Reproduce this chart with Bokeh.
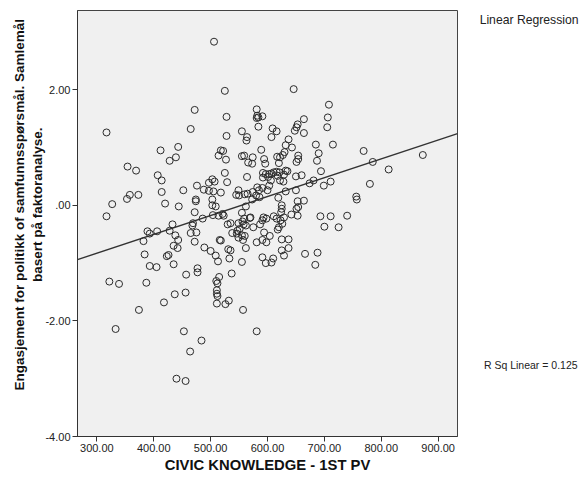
from bokeh.plotting import figure
from bokeh.layouts import row
from bokeh.models import Range1d, FixedTicker, PrintfTickFormatter
from bokeh.core.properties import value
from bokeh.embed import file_html
from bokeh.resources import INLINE

# CIVIC KNOWLEDGE - 1ST PV (x) vs engagement factor score (y)
civic = [506, 525, 472, 528, 465, 528, 317, 555, 564, 563, 412, 443, 439, 428, 354, 369, 407, 414, 414, 420,
         452, 476, 474, 474, 358, 353, 373, 327, 518, 522, 514, 527, 525, 529, 503, 507, 497, 488, 497, 505,
         518, 503, 555, 559, 566, 564, 549, 545, 550, 560, 565,
         444, 472, 503, 509, 562, 555, 559, 556, 569, 549, 558, 562, 504, 514, 521, 523, 486, 469, 468, 433,
         428, 389, 406, 393, 382, 384, 438, 443, 435, 442, 465, 475, 472, 530, 535, 538, 546, 549, 557, 555,
         560, 547, 551, 516, 518, 489, 500, 509, 513, 531, 535, 533, 562, 555, 423, 426, 435, 393, 405, 457,
         477, 477, 322, 339, 387, 510, 515, 512, 537, 437, 456, 418, 511, 511, 512, 511, 526, 532, 374, 557,
         333, 453, 484, 464, 440, 456, 317,
         646, 708, 706, 705, 715, 685, 690, 687, 694, 699, 711, 769, 785, 813, 873, 780, 756, 757,
         581, 582, 581, 584, 591, 584, 609, 616, 607, 664, 653, 651, 648, 664, 637, 632, 643, 630, 627, 622,
         617, 654, 654, 651, 589, 594, 596, 573, 574, 620, 621, 618, 629, 632, 635, 592, 597, 603, 607, 611,
         616, 592, 601, 606, 622, 628, 650, 660, 674, 681, 582, 591, 585, 574, 580, 586, 573, 632, 650, 619,
         653, 664, 600, 603,
         570, 593, 591, 575, 587, 594, 581, 591, 598, 604, 611, 616, 623, 620, 618, 629, 626, 625, 637, 637,
         625, 629, 591, 597, 607, 610, 642, 653, 651, 654, 625, 625, 624, 693, 711, 740, 700, 725, 666, 688,
         684, 581, 598]
engagement = [2.83, 1.98, 1.65, 1.53, 1.32, 1.20, 1.26, 1.28, 1.18, 1.12, 0.95, 1.01, 0.83, 0.77, 0.67, 0.60, 0.52, 0.43, 0.23, 0.03,
              0.26, 0.34, 0.10, 0.07, 0.18, 0.11, 0.18, 0.02, 0.95, 0.94, 0.86, 0.79, 0.56, 0.40, 0.45, 0.41, 0.39, 0.27, 0.25, 0.24,
              0.22, 0.10, 0.85, 0.86, 0.74, 0.49, 0.26, 0.18, 0.17, 0.19, 0.20,
              -0.02, -0.12, 0.00, -0.02, -0.02, -0.13, -0.23, -0.28, -0.22, -0.31, -0.33, -0.35, -0.17, -0.18, -0.15, -0.18, -0.23, -0.31, -0.35, -0.33,
              -0.44, -0.45, -0.45, -0.49, -0.62, -0.85, -0.52, -0.60, -0.70, -0.74, -0.48, -0.47, -0.63, -0.33, -0.31, -0.48, -0.49, -0.56, -0.60, -0.52,
              -0.53, -0.44, -0.41, -0.60, -0.61, -0.73, -0.79, -0.87, -0.97, -0.76, -0.78, -0.92, -0.74, -0.98, -0.88, -0.86, -1.02, -1.05, -1.07, -1.20,
              -1.09, -1.16, -1.32, -1.36, -1.34, -1.31, -1.24, -1.35, -1.18, -1.54, -1.51, -1.68, -1.47, -1.53, -1.57, -1.70, -1.71, -1.65, -1.81, -1.81,
              -2.14, -2.18, -2.34, -2.53, -3.00, -3.04, -0.19,
              2.01, 1.74, 1.52, 1.35, 1.05, 1.05, 0.90, 0.77, 0.59, 0.34, 0.41, 0.94, 0.75, 0.62, 0.87, 0.37, 0.15, 0.10,
              1.66, 1.55, 1.51, 1.52, 1.54, 1.36, 1.33, 1.28, 1.18, 1.49, 1.40, 1.35, 1.29, 1.25, 1.14, 1.04, 1.00, 0.92, 0.87, 0.83,
              0.84, 0.86, 0.80, 0.75, 0.96, 0.80, 0.72, 0.72, 0.83, 0.73, 0.57, 0.51, 0.53, 0.60, 0.59, 0.56, 0.54, 0.54, 0.55, 0.57,
              0.58, 0.48, 0.49, 0.43, 0.43, 0.41, 0.50, 0.52, 0.38, 0.43, 0.31, 0.30, 0.26, 0.23, 0.17, 0.14, 0.10, 0.24, 0.26, 0.13,
              0.07, 0.08, 0.26, 0.34,
              -0.21, -0.21, -0.26, -0.38, -0.33, -0.47, -0.64, -0.60, -0.64, -0.53, -0.19, -0.23, -0.26, -0.38, -0.42, -0.21, -0.32, -0.59, -0.59, -0.74,
              -0.78, -0.87, -0.90, -1.00, -0.99, -0.92, -0.16, -0.18, -0.06, -0.03, 0.00, -0.06, -0.12, -0.19, -0.19, -0.18, -0.37, -0.38, -0.84, -0.82,
              -1.03, -2.18, -0.23]

# Fit line endpoints as drawn (R Sq Linear = 0.125)
fit_x = [266, 934]
fit_y = [-0.94, 1.24]

x_ticks = [300, 400, 500, 600, 700, 800, 900]
y_ticks = [-4, -2, 0, 2]
y_tick_labels = {-4: "-4.00", -2: "-2.00", 0: ".00", 2: "2.00"}

x_title = "CIVIC KNOWLEDGE - 1ST PV"
y_title_lines = ["Engasjement for politikk of samfunnsspørsmål. Samlemål", "basert på faktoranalyse."]
legend_text = ["Linear Regression"]
rsq_text = ["R Sq Linear = 0.125"]

FONT = "Liberation Sans"
PAD = "\u00a0" * 10   # shifts the centred y title up along the axis, as in the original

p = figure(width=459, height=479, output_backend="svg", toolbar_location=None,
           x_range=Range1d(266, 934), y_range=Range1d(-4, 3.37),
           min_border_left=77, min_border_right=2, min_border_top=10, min_border_bottom=43)

p.background_fill_color = "#F0F0F0"
p.border_fill_color = "white"
p.outline_line_color = "#444444"
p.outline_line_width = 1
p.grid.visible = False

for ax in (p.xaxis[0], p.yaxis[0]):
    ax.axis_line_color = "#333333"
    ax.major_tick_line_color = "#333333"
    ax.major_tick_in = 0
    ax.major_tick_out = 5
    ax.minor_tick_line_color = None
    ax.major_label_text_font = FONT
    ax.major_label_text_font_size = "11px"
    ax.major_label_text_color = "#222222"
    ax.axis_label_text_font = FONT
    ax.axis_label_text_font_style = "bold"
    ax.axis_label_text_color = "#111111"

p.xaxis[0].ticker = FixedTicker(ticks=x_ticks)
p.xaxis[0].formatter = PrintfTickFormatter(format="%.2f")
p.xaxis[0].major_label_standoff = 2
p.xaxis[0].axis_label = x_title
p.xaxis[0].axis_label_text_font_size = "14.8px"
p.xaxis[0].axis_label_standoff = 2

p.yaxis[0].ticker = FixedTicker(ticks=y_ticks)
p.yaxis[0].formatter = PrintfTickFormatter(format="%.2f")
p.yaxis[0].major_label_overrides = y_tick_labels
p.yaxis[0].major_label_standoff = 2
p.yaxis[0].axis_label = "\n".join(PAD + s for s in y_title_lines)
p.yaxis[0].axis_label_text_font_size = "13.5px"
p.yaxis[0].axis_label_standoff = -3

p.line(fit_x, fit_y, line_color="#333333", line_width=1.4)
p.scatter(civic, engagement, marker="circle", size=7, fill_color=None,
          line_color="#2b2b2b", line_width=1)

# Right-hand panel holding the fit legend and the R-square note
side = figure(width=122, height=479, output_backend="svg", toolbar_location=None,
              x_range=Range1d(0, 1), y_range=p.y_range,
              min_border_left=0, min_border_right=0, min_border_top=10, min_border_bottom=43)
side.axis.visible = False
side.grid.visible = False
side.outline_line_color = None
side.background_fill_color = "white"
side.border_fill_color = "white"
side.text(x=[0.165], y=[3.20], text=legend_text, text_font=value(FONT), text_font_size="12.2px",
          text_color="#222222", text_baseline="middle")
side.text(x=[0.2], y=[-2.77], text=rsq_text, text_font=value(FONT), text_font_size="10.5px",
          text_color="#222222", text_baseline="middle")

layout = row(p, side)
open("out.html", "w").write(file_html(layout, INLINE))
